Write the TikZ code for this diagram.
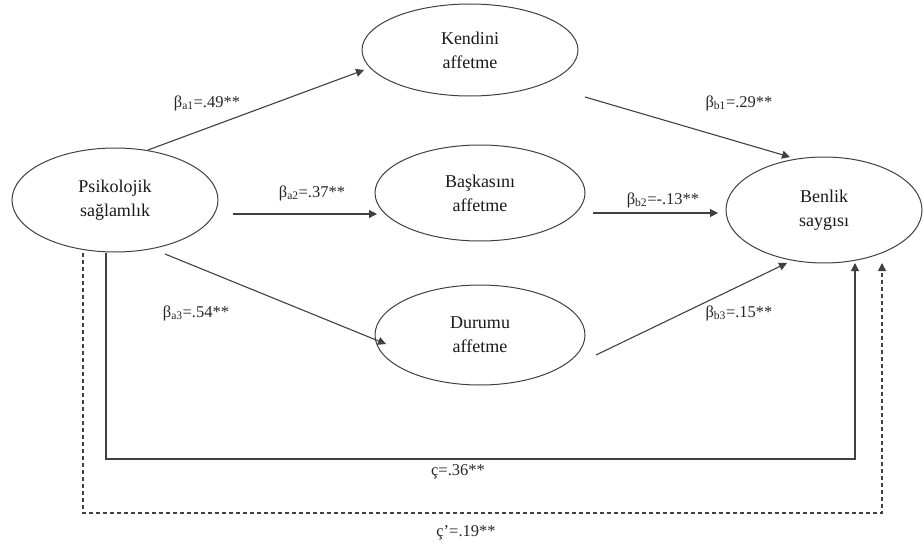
\documentclass[tikz,border=0pt]{standalone}
\usepackage{fontspec}
\setmainfont{Liberation Serif}
\usetikzlibrary{shapes.geometric,arrows.meta,calc}
\begin{document}
\begin{tikzpicture}[x=1pt,y=-1pt,
  ell/.style={ellipse,draw=black!75,line width=1pt,inner sep=0pt,align=center,
              font=\fontsize{18}{24}\selectfont,text=black!90},
  arr/.style={draw=black!75,line width=1.1pt,-{Triangle[length=8pt,width=8pt]}},
  darr/.style={arr,dash pattern=on 4pt off 3pt},
  lab/.style={inner sep=0pt,font=\fontsize{16.5}{19}\selectfont,text=black!85},
  ]
\useasboundingbox (0,0) rectangle (924,543);
% nodes
\node[ell,minimum width=206,minimum height=104] (psik) at (115,200) {Psikolojik\\sağlamlık};
\node[ell,minimum width=216,minimum height=92]  (kend) at (470,50)  {Kendini\\affetme};
\node[ell,minimum width=210,minimum height=96]  (bask) at (480,193) {Başkasını\\affetme};
\node[ell,minimum width=210,minimum height=100] (dur)  at (480,335) {Durumu\\affetme};
\node[ell,minimum width=196,minimum height=106] (ben)  at (824,210) {Benlik\\saygısı};
% paths
\draw[arr] ([shift={(33,-50)}]psik.center) -- ([shift={(-106,20)}]kend.center);
\draw[arr] ([shift={(115,47)}]kend.center) -- ([shift={(-34,-53)}]ben.center);
\draw[arr] ([shift={(118,14)}]psik.center) -- ([shift={(-103,21)}]bask.center);
\draw[arr] ([shift={(113,20)}]bask.center) -- ([shift={(-106,3)}]ben.center);
\draw[arr] ([shift={(50,54)}]psik.center) -- ([shift={(-94,9)}]dur.center);
\draw[arr] ([shift={(116,20)}]dur.center) -- ([shift={(-37,53)}]ben.center);
\draw[arr] ([shift={(-9,53)}]psik.center) -- ++(0,206) -| ([shift={(31,53)}]ben.center);
\draw[darr] ([shift={(-32,53)}]psik.center) -- ++(0,260) -| ([shift={(58,53)}]ben.center);
% labels
\node[lab] (la1) at (207,103) {β\textsubscript{a1}=.49**};
\node[lab] (la2) at (312,193) {β\textsubscript{a2}=.37**};
\node[lab] (la3) at (196,313) {β\textsubscript{a3}=.54**};
\node[lab] (lb1) at (739,103) {β\textsubscript{b1}=.29**};
\node[lab] (lb2) at (663,200) {β\textsubscript{b2}=-.13**};
\node[lab] (lb3) at (739,313) {β\textsubscript{b3}=.15**};
\node[lab] (lc)  at (458,472) {ç=.36**};
\node[lab] (lcp) at (466,533) {ç'=.19**};
\end{tikzpicture}
\end{document}
